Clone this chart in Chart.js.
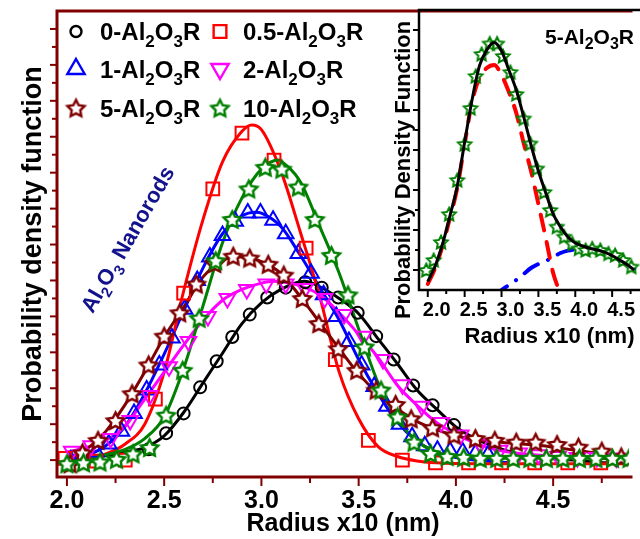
<!DOCTYPE html>
<html>
<head>
<meta charset="utf-8">
<script src="https://cdn.jsdelivr.net/npm/chart.js@4.4.1/dist/chart.umd.min.js"></script>
<style>
  html, body { margin: 0; padding: 0; background: #fff; overflow: hidden; }
  #wrap { position: relative; width: 640px; height: 539px; overflow: hidden; background: #fff; }
  #main { position: absolute; left: 0; top: 0; }
  #inset { position: absolute; left: 380px; top: 0; }
</style>
</head>
<body>
<div id="wrap">
  <canvas id="main" width="640" height="539"></canvas>
  <canvas id="inset" width="307" height="360"></canvas>
</div>
<script>
const FONT = "'Liberation Sans', Arial, Helvetica, sans-serif";
const DARK_RED = '#800000';

// ---------- main panel: size distributions (Radius x10, nm) ----------
const seriesNames = ['0-Al_2O_3R', '0.5-Al_2O_3R', '1-Al_2O_3R', '2-Al_2O_3R', '5-Al_2O_3R', '10-Al_2O_3R'];

// fitted curves
const fit0X = [2.0,2.1,2.2,2.3,2.4,2.5,2.6,2.7,2.8,2.9,3.0,3.1,3.22,3.3,3.4,3.5,3.6,3.7,3.8,3.9,4.0,4.1,4.2,4.3,4.4,4.5,4.6,4.7,4.8,4.9];
const fit0Y = [0.0,0.1,0.25,0.45,0.7,1.35,2.65,4.3,5.95,7.6,8.75,9.5,9.95,9.65,9.0,8.15,6.75,5.35,3.9,2.85,1.85,1.2,0.75,0.4,0.2,0.08,0.0,-0.1,-0.15,-0.15];
const fit05X = [2.0,2.1,2.2,2.3,2.4,2.5,2.6,2.7,2.8,2.9,2.95,3.0,3.1,3.2,3.3,3.4,3.5,3.6,3.7,3.8,3.9,4.1,4.4,4.9];
const fit05Y = [-0.05,0.1,0.35,0.9,2.0,4.9,9.4,13.4,16.6,18.3,18.66,18.4,16.1,12.7,9.1,4.9,2.3,0.75,0.2,-0.05,-0.15,-0.2,-0.2,-0.2];
const fit1X = [2.0,2.1,2.2,2.3,2.4,2.5,2.6,2.7,2.8,2.9,2.97,3.0,3.1,3.2,3.3,3.4,3.5,3.6,3.7,3.8,3.9,4.0,4.1,4.2,4.33];
const fit1Y = [-0.05,0.25,0.8,1.9,3.7,5.9,8.3,10.7,12.6,13.6,13.8,13.75,13.0,11.4,9.6,7.8,5.6,3.7,2.1,1.05,0.45,0.15,0.0,-0.1,-0.15];
const fit2X = [2.0,2.1,2.2,2.3,2.4,2.5,2.6,2.7,2.8,2.9,3.0,3.06,3.1,3.2,3.3,3.4,3.5,3.6,3.7,3.8,3.9,4.0,4.1,4.2,4.3,4.4,4.5,4.6,4.7,4.8,4.9];
const fit2Y = [0.45,0.7,1.1,1.9,3.4,4.9,6.4,7.8,8.9,9.5,9.85,9.95,9.93,9.7,9.2,8.2,7.0,5.7,4.15,3.05,2.1,1.45,0.95,0.6,0.4,0.3,0.2,0.15,0.12,0.1,0.1];
const fit5X = [2.0,2.1,2.2,2.3,2.4,2.5,2.6,2.7,2.8,2.87,2.9,3.0,3.1,3.2,3.3,3.4,3.5,3.6,3.7,3.8,3.9,4.0,4.1,4.2,4.3,4.4,4.5,4.6,4.7,4.8,4.9];
const fit5Y = [0.0,0.6,1.6,3.1,4.9,6.85,8.5,10.2,11.1,11.34,11.3,11.05,10.4,9.1,7.65,6.2,4.8,3.7,2.85,2.15,1.7,1.35,1.15,1.02,0.93,0.85,0.72,0.57,0.42,0.24,0.05];
const fit10X = [2.0,2.1,2.2,2.3,2.4,2.5,2.6,2.7,2.8,2.9,3.0,3.09,3.1,3.2,3.3,3.4,3.5,3.6,3.7,3.8,3.9,4.0,4.1,4.2,4.4,4.6,4.9];
const fit10Y = [-0.1,0.1,0.3,0.6,1.2,2.4,5.1,8.6,12.1,14.6,16.2,16.7,16.65,15.5,13.0,10.4,7.3,4.3,2.3,1.05,0.45,0.2,0.12,0.1,0.1,0.1,0.1];

// measured points
const mark0X = [2.42,2.51,2.60,2.685,2.77,2.85,2.94,3.03,3.125,3.225,3.31,3.395,3.495,3.59,3.68,3.78,3.88,3.99];
const mark0Y = [0.6,1.5,2.6,4.05,5.5,6.85,8.1,9.05,9.6,9.9,9.6,9.05,8.2,6.9,5.6,4.15,3.05,1.95];
const mark05X = [1.99,2.15,2.30,2.455,2.60,2.75,2.90,3.065,3.23,3.38,3.55,3.725,3.895,4.065,4.235,4.405,4.575,4.745];
const mark05Y = [0.1,-0.05,0.0,3.4,9.3,15.1,18.2,16.7,11.8,5.6,1.1,0.0,-0.15,-0.15,-0.15,-0.15,-0.15,-0.15];
const mark1X = [2.02,2.085,2.15,2.215,2.28,2.345,2.41,2.475,2.54,2.605,2.67,2.735,2.80,2.865,2.93,2.995,3.06,3.125,3.19,3.255,3.32,3.385,3.45,3.515,3.58,3.645,3.71,3.775,3.84,3.905,3.97,4.035,4.10,4.165];
const mark1Y = [0.0,0.15,0.45,0.9,1.6,2.6,3.9,5.3,6.8,8.4,10.0,11.3,12.5,13.3,13.75,13.75,13.35,12.6,11.5,10.4,9.2,8.0,6.6,5.3,4.1,3.0,2.0,1.3,0.8,0.55,0.5,0.45,0.35,0.3];
const mark2X = [2.025,2.125,2.225,2.325,2.425,2.525,2.625,2.725,2.825,2.925,3.025,3.125,3.225,3.325,3.425,3.525,3.625,3.725,3.825,3.925,4.025,4.125,4.225,4.325,4.425,4.525,4.625,4.725,4.825];
const mark2Y = [0.5,0.8,1.2,2.2,3.6,5.2,6.6,8.0,9.0,9.5,9.8,9.8,9.55,9.0,8.1,6.9,5.6,4.2,3.0,2.1,1.4,0.9,0.55,0.4,0.3,0.2,0.15,0.15,0.12];
const mark5X = [2.017,2.08,2.16,2.25,2.335,2.42,2.50,2.58,2.665,2.76,2.855,2.94,3.035,3.115,3.21,3.295,3.395,3.49,3.59,3.69,3.77,3.88,3.99,4.10,4.20,4.31,4.41,4.52,4.63,4.75,4.85];
const mark5Y = [-0.2,0.4,1.1,2.2,3.7,5.3,6.9,8.2,9.8,10.95,11.35,11.25,10.9,10.3,9.0,7.6,6.2,5.0,3.9,3.1,2.3,1.8,1.4,1.2,1.1,1.0,1.0,0.87,0.72,0.5,0.18];
const mark10X = [2.0,2.085,2.17,2.255,2.34,2.425,2.51,2.595,2.68,2.765,2.85,2.935,3.02,3.105,3.19,3.275,3.36,3.445,3.53,3.615,3.70,3.785,3.87,3.955,4.04,4.125,4.21,4.295,4.38,4.465,4.55,4.635,4.72,4.805,4.89];
const mark10Y = [-0.2,-0.15,-0.1,0.05,0.35,0.7,2.5,5.0,7.9,11.1,13.4,15.1,16.3,16.2,15.2,13.4,11.4,9.2,6.3,3.9,2.4,1.0,0.37,0.2,0.15,0.1,0.1,0.1,0.1,0.1,0.1,0.1,0.1,0.1,0.1];

// axis ticks
const mainXMajor = [2.0, 2.5, 3.0, 3.5, 4.0, 4.5];
const mainXMinor = [2.25, 2.75, 3.25, 3.75, 4.25, 4.75];
const mainYMajor = [0, 2, 4, 6, 8, 10, 12, 14, 16, 18, 20, 22, 24];
const mainYMinor = [1, 3, 5, 7, 9, 11, 13, 15, 17, 19, 21, 23];

// ---------- inset: 5-Al2O3R with two-peak decomposition ----------
const insetLabel = '5-Al_2O_3R';
const insetX = [2.0,2.1,2.2,2.3,2.4,2.5,2.6,2.7,2.8,2.9,3.0,3.1,3.2,3.3,3.4,3.5,3.6,3.7,3.8,3.9,4.0,4.1,4.2,4.3,4.4,4.5,4.6,4.7,4.8];
const insetFitY = [0.42,1.2,2.3,3.7,5.2,7.4,9.5,11.2,12.0,12.37,11.95,11.0,10.0,8.67,7.25,5.95,4.85,3.8,3.15,2.65,2.35,2.2,2.08,2.0,1.88,1.72,1.5,1.28,1.0];
const insetPeak1X = [2.0,2.1,2.2,2.3,2.4,2.5,2.6,2.7,2.8,2.9,3.0,3.1,3.2,3.3,3.4,3.5,3.6,3.7,3.8];
const insetPeak1Y = [0.3,1.1,2.2,3.6,5.1,7.3,9.4,10.6,11.1,11.25,10.75,9.9,8.85,7.35,5.95,4.3,2.6,0.85,-0.2];
const insetPeak2X = [2.9,3.0,3.1,3.2,3.3,3.4,3.5,3.6,3.7,3.8,3.9,4.0,4.1,4.2,4.3,4.4,4.5,4.6,4.7,4.8];
const insetPeak2Y = [-0.3,0.0,0.25,0.5,0.8,1.1,1.3,1.45,1.65,1.85,1.97,2.03,2.05,2.0,1.9,1.78,1.6,1.45,1.27,1.05];
const insetMarkX = [1.98,2.08,2.18,2.29,2.40,2.50,2.58,2.65,2.73,2.84,2.94,3.02,3.12,3.20,3.30,3.39,3.48,3.58,3.66,3.75,3.85,3.96,4.05,4.14,4.23,4.34,4.45,4.54,4.65,4.76];
const insetMarkY = [1.0,1.5,2.4,3.8,5.5,7.3,9.1,10.7,11.8,12.33,12.33,11.7,10.9,9.8,8.58,7.33,6.08,4.9,4.0,3.17,2.67,2.33,2.08,2.0,2.08,2.0,1.83,1.75,1.5,1.17];
const insetXMajor = [2.0, 2.5, 3.0, 3.5, 4.0, 4.5];
const insetXMinor = [2.25, 2.75, 3.25, 3.75, 4.25, 4.75];
const insetYMajor = [1, 3, 5, 7, 9, 11, 13];
const insetYMinor = [2, 4, 6, 8, 10, 12];

const annotationText = 'Al_2O_3 Nanorods';

// ---------- helpers ----------
function pts(xs, ys) { return xs.map((x, i) => ({ x: x, y: ys[i] })); }

// open five-pointed star marker with a white core
function starMarker(color, R, lw) {
  const s = Math.ceil(R * 2 + lw * 2 + 2);
  const c = document.createElement('canvas');
  c.width = s; c.height = s;
  const g = c.getContext('2d');
  g.translate(s / 2, s / 2 + R * 0.1);
  g.beginPath();
  for (let k = 0; k < 10; k++) {
    const r = k % 2 ? R * 0.5 : R;
    const a = -Math.PI / 2 + k * Math.PI / 5;
    g.lineTo(r * Math.cos(a), r * Math.sin(a));
  }
  g.closePath();
  g.fillStyle = '#fff';
  g.fill();
  g.lineWidth = lw;
  g.lineJoin = 'miter';
  g.strokeStyle = color;
  g.stroke();
  return c;
}

// text with subscripts; '_' marks the next character as subscript
function richParts(str) {
  const parts = [];
  for (let i = 0; i < str.length; i++) {
    if (str[i] === '_') { parts.push({ t: str[i + 1], sub: true }); i++; }
    else if (parts.length && !parts[parts.length - 1].sub) parts[parts.length - 1].t += str[i];
    else parts.push({ t: str[i], sub: false });
  }
  return parts;
}
function richWidth(ctx, parts, size, subSize) {
  let w = 0;
  parts.forEach(p => { ctx.font = 'bold ' + (p.sub ? subSize : size) + 'px ' + FONT; p.w = ctx.measureText(p.t).width; w += p.w; });
  return w;
}
function drawRich(ctx, str, x, y, size, subSize, drop, color, align) {
  const parts = richParts(str);
  const w = richWidth(ctx, parts, size, subSize);
  let cx = align === 'center' ? x - w / 2 : x;
  ctx.fillStyle = color;
  ctx.textAlign = 'left';
  ctx.textBaseline = 'alphabetic';
  parts.forEach(p => {
    ctx.font = 'bold ' + (p.sub ? subSize : size) + 'px ' + FONT;
    ctx.fillText(p.t, cx, p.sub ? y + drop : y);
    cx += p.w;
  });
}

// simple marker drawing used by the legend
function drawMarker(ctx, style, x, y, r, color, lw) {
  if (typeof style === 'object') { ctx.drawImage(style, x - style.width / 2, y - style.height / 2); return; }
  ctx.save();
  ctx.strokeStyle = color; ctx.lineWidth = lw; ctx.lineJoin = 'miter';
  ctx.beginPath();
  if (style === 'circle') ctx.arc(x, y, r, 0, Math.PI * 2);
  else if (style === 'rect') { const h = r * Math.SQRT1_2; ctx.rect(x - h, y - h, 2 * h, 2 * h); }
  else if (style === 'triangle') { ctx.moveTo(x, y - r); ctx.lineTo(x + r * 0.866, y + r / 2); ctx.lineTo(x - r * 0.866, y + r / 2); ctx.closePath(); }
  else if (style === 'triangleDown') { ctx.moveTo(x, y + r); ctx.lineTo(x + r * 0.866, y - r / 2); ctx.lineTo(x - r * 0.866, y - r / 2); ctx.closePath(); }
  ctx.stroke();
  ctx.restore();
}

// axes frame with major/minor tick marks
function drawFrame(chart, cfg) {
  const { ctx, chartArea: a, scales } = chart;
  const xs = scales.x, ys = scales.y;
  ctx.save();
  ctx.strokeStyle = cfg.color;
  ctx.lineCap = 'butt';
  ctx.lineWidth = cfg.tickWidth;
  const xt = (vals, len) => vals.forEach(v => {
    const p = xs.getPixelForValue(v);
    if (p < a.left - 1 || p > a.right + 2) return;
    ctx.beginPath(); ctx.moveTo(p, a.bottom); ctx.lineTo(p, a.bottom + len); ctx.stroke();
  });
  const yt = (vals, len) => vals.forEach(v => {
    const p = ys.getPixelForValue(v);
    if (p < a.top - 1 || p > a.bottom + 1) return;
    ctx.beginPath(); ctx.moveTo(a.left, p); ctx.lineTo(a.left - len, p); ctx.stroke();
  });
  xt(cfg.xMajor, cfg.xMajorLen); xt(cfg.xMinor, cfg.xMinorLen);
  yt(cfg.yMajor, cfg.yMajorLen); yt(cfg.yMinor, cfg.yMinorLen);
  ctx.lineWidth = cfg.axisWidth;
  ctx.lineCap = 'square';
  ctx.beginPath();
  ctx.moveTo(a.left, a.top); ctx.lineTo(a.left, a.bottom); ctx.lineTo(a.right + 2, a.bottom);
  ctx.moveTo(a.left, a.top); ctx.lineTo(a.right + 2, a.top);
  ctx.stroke();
  ctx.restore();
}

// ---------- main chart ----------
const colors = ['#000000', '#ff0000', '#0000ff', '#ff00ff', '#800000', '#008000'];
const starDark = starMarker('#800000', 9, 2.4);
const starGreen = starMarker('#008000', 9, 2.4);
const styles = ['circle', 'rect', 'triangle', 'triangle', starDark, starGreen];
const legendStyles = ['circle', 'rect', 'triangle', 'triangleDown', starDark, starGreen];
const rotations = [0, 0, 0, 180, 0, 0];
const radii = [6, 9, 9, 9, 9, 9];

const fitsX = [fit0X, fit05X, fit1X, fit2X, fit5X, fit10X];
const fitsY = [fit0Y, fit05Y, fit1Y, fit2Y, fit5Y, fit10Y];
const marksX = [mark0X, mark05X, mark1X, mark2X, mark5X, mark10X];
const marksY = [mark0Y, mark05Y, mark1Y, mark2Y, mark5Y, mark10Y];
const markOrder = [5, 3, 4, 2, 1, 0];

const mainSets = [];
fitsX.forEach((xs, i) => mainSets.push({
  label: seriesNames[i] + ' fit',
  data: pts(xs, fitsY[i]),
  borderColor: colors[i], borderWidth: 3,
  pointRadius: 0, showLine: true, fill: false,
  cubicInterpolationMode: 'monotone',
  order: 20 + markOrder[i]
}));
marksX.forEach((xs, i) => mainSets.push({
  label: seriesNames[i],
  data: pts(xs, marksY[i]),
  showLine: false,
  pointStyle: styles[i], pointRotation: rotations[i], pointRadius: radii[i],
  pointBorderWidth: 2, pointBorderColor: colors[i], pointBackgroundColor: 'rgba(0,0,0,0)',
  order: markOrder[i]
}));

const mainDecor = {
  id: 'mainDecor',
  afterDraw(chart) {
    const ctx = chart.ctx, a = chart.chartArea;
    drawFrame(chart, {
      color: DARK_RED, axisWidth: 3, tickWidth: 2,
      xMajor: mainXMajor, xMinor: mainXMinor, xMajorLen: 9, xMinorLen: 6,
      yMajor: mainYMajor, yMinor: mainYMinor, yMajorLen: 7, yMinorLen: 5
    });
    // legend, two columns
    const colMarker = [a.left + 19, a.left + 163];
    const colText = [a.left + 43, a.left + 186];
    const rowY = [a.top + 20.5, a.top + 58, a.top + 97];
    const legendOrder = [[0, 1], [2, 3], [4, 5]];
    legendOrder.forEach((row, r) => row.forEach((si, c) => {
      drawMarker(ctx, legendStyles[si], colMarker[c], rowY[r], si === 0 ? 5.5 : (si === 1 ? 9 : 10), colors[si], 2.4);
      drawRich(ctx, seriesNames[si], colText[c], rowY[r] + 8.5, 24, 17, 7, '#000', 'left');
    }));
    // rotated annotation
    ctx.save();
    ctx.translate(127, 239);
    ctx.rotate(-60 * Math.PI / 180);
    drawRich(ctx, annotationText, 0, 8, 22, 15, 6, '#12128c', 'center');
    ctx.restore();
  }
};

new Chart(document.getElementById('main'), {
  type: 'line',
  data: { datasets: mainSets },
  options: {
    responsive: false, animation: false, devicePixelRatio: 1,
    layout: { padding: { top: 8, right: 0, bottom: 0, left: 0 } },
    plugins: { legend: { display: false }, tooltip: { enabled: false } },
    scales: {
      x: {
        type: 'linear', min: 1.949, max: 4.89,
        afterBuildTicks: s => { s.ticks = mainXMajor.map(v => ({ value: v })); },
        afterFit: s => { s.height = 62; },
        grid: { display: false, drawTicks: false },
        border: { display: false },
        ticks: { autoSkip: false, maxRotation: 0, padding: 9, color: '#000',
          font: { family: FONT, size: 25, weight: 'bold' }, callback: v => v.toFixed(1) },
        title: { display: true, text: 'Radius x10 (nm)', color: '#000',
          font: { family: FONT, size: 25, weight: 'bold', lineHeight: 1 }, padding: { top: 0, bottom: 2 } }
      },
      y: {
        type: 'linear', min: -0.94, max: 25,
        afterFit: s => { s.width = 57; },
        grid: { display: false, drawTicks: false },
        border: { display: false },
        ticks: { display: false },
        title: { display: true, text: 'Probability density function', color: '#000',
          font: { family: FONT, size: 27, weight: 'bold', lineHeight: 1 }, padding: { top: 20, bottom: 0 } }
      }
    }
  },
  plugins: [mainDecor]
});

// ---------- inset chart ----------
const insetStar = starMarker('#008000', 7, 2);
const insetDecor = {
  id: 'insetDecor',
  afterDraw(chart) {
    const ctx = chart.ctx;
    drawFrame(chart, {
      color: '#000', axisWidth: 2.5, tickWidth: 2,
      xMajor: insetXMajor, xMinor: insetXMinor, xMajorLen: 7, xMinorLen: 4,
      yMajor: insetYMajor, yMinor: insetYMinor, yMajorLen: 6, yMinorLen: 4
    });
    ctx.save();
    ctx.translate(24, 170);
    ctx.rotate(-Math.PI / 2);
    ctx.font = 'bold 22px ' + FONT;
    ctx.fillStyle = '#000';
    ctx.textAlign = 'center';
    ctx.textBaseline = 'middle';
    ctx.fillText('Probability Density Function', 0, 0);
    ctx.restore();
    drawRich(ctx, insetLabel, 165, 44, 21, 16, 5, '#000', 'left');
  }
};

new Chart(document.getElementById('inset'), {
  type: 'line',
  data: {
    datasets: [
      { label: 'fit', data: pts(insetX, insetFitY), borderColor: '#000', borderWidth: 3,
        pointRadius: 0, showLine: true, cubicInterpolationMode: 'monotone', order: 1 },
      { label: 'peak 1', data: pts(insetPeak1X, insetPeak1Y), borderColor: '#ff0000', borderWidth: 4,
        borderDash: [16, 12], borderCapStyle: 'round', pointRadius: 0, showLine: true,
        cubicInterpolationMode: 'monotone', order: 3 },
      { label: 'peak 2', data: pts(insetPeak2X, insetPeak2Y), borderColor: '#0000ff', borderWidth: 4,
        borderDash: [16, 11, 0.1, 11], borderCapStyle: 'round', pointRadius: 0, showLine: true,
        cubicInterpolationMode: 'monotone', order: 4 },
      { label: insetLabel, data: pts(insetMarkX, insetMarkY), showLine: false,
        pointStyle: insetStar, pointRadius: 6, order: 2 }
    ]
  },
  options: {
    responsive: false, animation: false, devicePixelRatio: 1,
    layout: { padding: { top: 10, right: 0, bottom: 0, left: 0 } },
    plugins: { legend: { display: false }, tooltip: { enabled: false } },
    scales: {
      x: {
        type: 'linear', min: 1.881, max: 5.42,
        afterBuildTicks: s => { s.ticks = insetXMajor.map(v => ({ value: v })); },
        afterFit: s => { s.height = 70; },
        grid: { display: false, drawTicks: false },
        border: { display: false },
        ticks: { autoSkip: false, maxRotation: 0, padding: 8, labelOffset: 9, color: '#000',
          font: { family: FONT, size: 20, weight: 'bold' }, callback: v => v.toFixed(1) },
        title: { display: true, text: 'Radius x10 (nm)', color: '#000',
          font: { family: FONT, size: 22, weight: 'bold', lineHeight: 1 }, padding: { top: 0, bottom: 12 } }
      },
      y: {
        type: 'linear', min: 0, max: 14,
        afterFit: s => { s.width = 39; },
        grid: { display: false, drawTicks: false },
        border: { display: false },
        ticks: { display: false }
      }
    }
  },
  plugins: [insetDecor]
});
</script>
</body>
</html>
